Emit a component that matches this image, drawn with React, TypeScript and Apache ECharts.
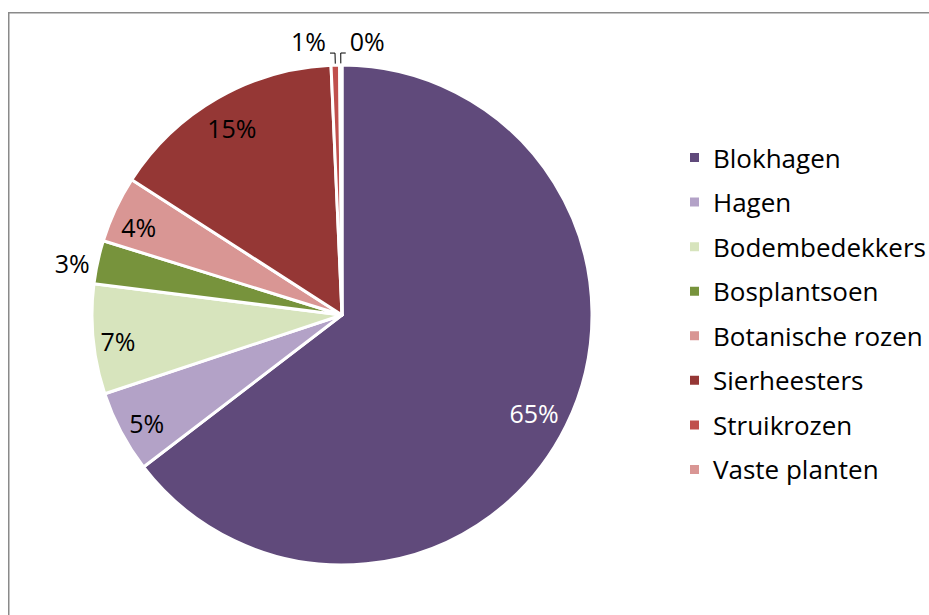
import React, { useEffect, useRef } from "react";
import * as echarts from "echarts";

const categories = [
  "Blokhagen",
  "Hagen",
  "Bodembedekkers",
  "Bosplantsoen",
  "Botanische rozen",
  "Sierheesters",
  "Struikrozen",
  "Vaste planten",
];
const values = [64.6, 5.3, 7.1, 2.8, 4.3, 15.2, 0.55, 0.15];
const colors = ["#604A7B", "#B3A2C7", "#D7E4BD", "#77933C", "#D99694", "#953735", "#C0504D", "#D99694"];

const FONT = "'Open Sans', 'Noto Sans', sans-serif";

export default function App() {
  const ref = useRef<HTMLDivElement>(null);
  useEffect(() => {
    if (!ref.current) return;
    const chart = echarts.init(ref.current, null, { renderer: "svg" });
    const center = [342, 315];
    const R = 250;
    const pctFmt = (p: any) => Math.round(p.percent) + "%";
    const leader = {
      show: true,
      length: 12,
      length2: 5,
      lineStyle: { color: "#000000", width: 1 },
    };

    const sliceData = categories.map((name, i) => ({
      name,
      value: values[i],
      itemStyle: { color: colors[i] },
    }));

    const labelData = categories.map((name, i) => {
      const item: any = { name, value: values[i] };
      if (i === 0) {
        item.label = { color: "#ffffff", offset: [-6, 0] };
      }
      if (i === 2) {
        item.label = { offset: [-4, 5] };
      }
      if (i === 4) {
        item.label = { offset: [-3, 5] };
      }
      if (i === 1 || i === 5) {
        item.label = { offset: [0, 5] };
      }
      if (i === 3) {
        item.label = { position: "outside", distanceToLabelLine: 4, offset: [0, 2] };
        item.labelLine = { show: false, length: 4, length2: 0 };
      }
      if (i === 6 || i === 7) {
        item.label = { position: "outside", distanceToLabelLine: 5 };
        item.labelLine = leader;
      }
      return item;
    });

    chart.setOption({
      animation: false,
      graphic: [
        {
          type: "polyline",
          shape: { points: [[8.75, 700], [8.75, 12.75], [929, 12.75]] },
          style: { fill: "none", stroke: "#8a8a8a", lineWidth: 1.5 },
          silent: true,
        },
      ],
      legend: {
        orient: "vertical",
        left: 683,
        top: 139,
        icon: "rect",
        itemWidth: 11,
        itemHeight: 11,
        itemGap: 17.57,
        data: categories,
        textStyle: {
          fontFamily: FONT,
          fontSize: 26,
          lineHeight: 27,
          color: "#000000",
          padding: [0, 0, 0, 8],
        },
      },
      series: [
        {
          type: "pie",
          center,
          radius: [0, R],
          startAngle: 90,
          clockwise: true,
          avoidLabelOverlap: false,
          silent: true,
          label: { show: false },
          labelLine: { show: false },
          itemStyle: { borderColor: "#ffffff", borderWidth: 3 },
          data: sliceData,
        },
        {
          type: "pie",
          center,
          radius: [186, R],
          startAngle: 90,
          clockwise: true,
          avoidLabelOverlap: false,
          minShowLabelAngle: 0,
          silent: true,
          itemStyle: { color: "rgba(0,0,0,0)", borderWidth: 0 },
          label: {
            show: true,
            position: "inside",
            fontFamily: FONT,
            fontSize: 25,
            color: "#000000",
            formatter: pctFmt,
          },
          labelLine: { show: false },
          data: labelData,
          labelLayout: (params: any) => {
            const pts = params.labelLinePoints;
            if (!pts) return { hideOverlap: false };
            if (params.dataIndex === 6) {
              const p2 = pts[2];
              return {
                x: p2[0] - 4,
                y: p2[1] - 12,
                align: "right",
                verticalAlign: "middle",
                labelLinePoints: [pts[0], pts[1], p2],
                hideOverlap: false,
              };
            }
            if (params.dataIndex === 7) {
              const p1 = pts[1];
              const p2 = [p1[0] + (p1[0] - pts[2][0]), pts[2][1]];
              return {
                x: p2[0] + 4,
                y: p2[1] - 12,
                align: "left",
                verticalAlign: "middle",
                labelLinePoints: [pts[0], p1, p2],
                hideOverlap: false,
              };
            }
            return { hideOverlap: false };
          },
        },
      ],
    });
    return () => chart.dispose();
  }, []);
  return (
    <div
      ref={ref}
      style={{ position: "absolute", left: 0, top: 0, width: 929, height: 615, overflow: "hidden" }}
    />
  );
}
